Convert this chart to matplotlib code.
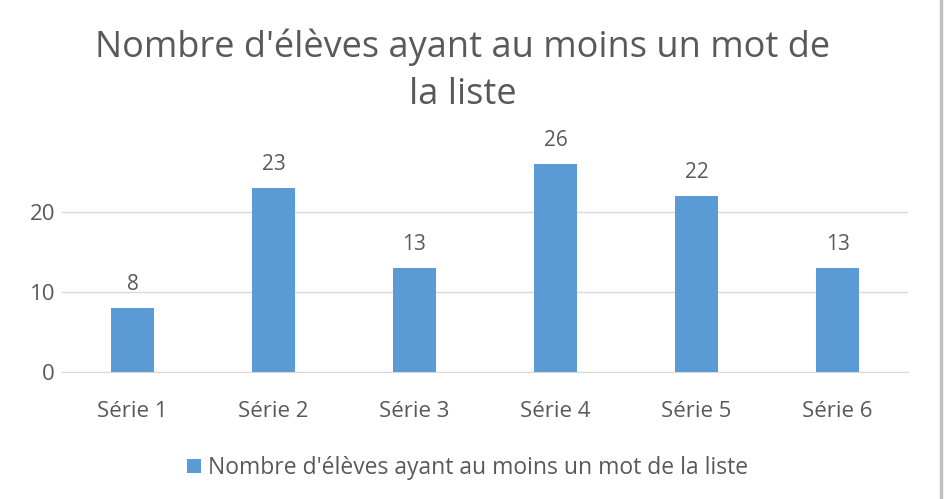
import matplotlib
matplotlib.use("Agg")
import matplotlib.pyplot as plt
from matplotlib.patches import Rectangle

categories = ["Série 1", "Série 2", "Série 3", "Série 4", "Série 5", "Série 6"]
values = [8, 23, 13, 26, 22, 13]
series_name = "Nombre d'élèves ayant au moins un mot de la liste"
title = "Nombre d'élèves ayant au moins un mot de\nla liste"
yticks = [0, 10, 20]

plt.rcParams['font.family'] = ['Open Sans', 'DejaVu Sans']
gray = '#595959'
bar_color = '#5B9BD5'

W, H = 944, 499
fig = plt.figure(figsize=(W/100, H/100), dpi=100)
ax = fig.add_axes([62/W, 1-372/H, (908-62)/W, 240/H])

x = list(range(len(categories)))
bars = ax.bar(x, values, width=0.31, color=bar_color, label=series_name, zorder=3)
for xi, v in zip(x, values):
    ax.text(xi, v + 1.6, str(v), ha='center', va='bottom', fontsize=15, color=gray)

ax.set_xlim(-0.5, len(categories) - 0.5)
ax.set_ylim(0, 30)
ax.set_yticks(yticks)
ax.set_xticks(x)
ax.set_xticklabels(categories, fontsize=16, color=gray)
ax.tick_params(axis='y', labelsize=16, colors=gray, length=0, pad=5)
ax.tick_params(axis='x', length=0, pad=21)
for t in ax.get_yticklabels():
    t.set_color(gray)
ax.grid(axis='y', color='#D9D9D9', linewidth=1, zorder=0)
for s in ['top', 'right', 'left']:
    ax.spines[s].set_visible(False)
ax.spines['bottom'].set_color('#D9D9D9')

fig.text(0.49, 1-71/H, title, ha='center', va='center', fontsize=26, color=gray, linespacing=1.42)

leg = fig.legend(handles=[bars], labels=[series_name], loc='center', bbox_to_anchor=(0.495, 1-468/H),
                 frameon=False, fontsize=16.5, handlelength=0.6, handleheight=0.6, handletextpad=0.3)
for t in leg.get_texts():
    t.set_color(gray)

fig.patches.append(Rectangle((0.996, 0), 0.002, 1, transform=fig.transFigure, color='#BFBFBF'))

fig.savefig('out.png', dpi=100, facecolor='white')
